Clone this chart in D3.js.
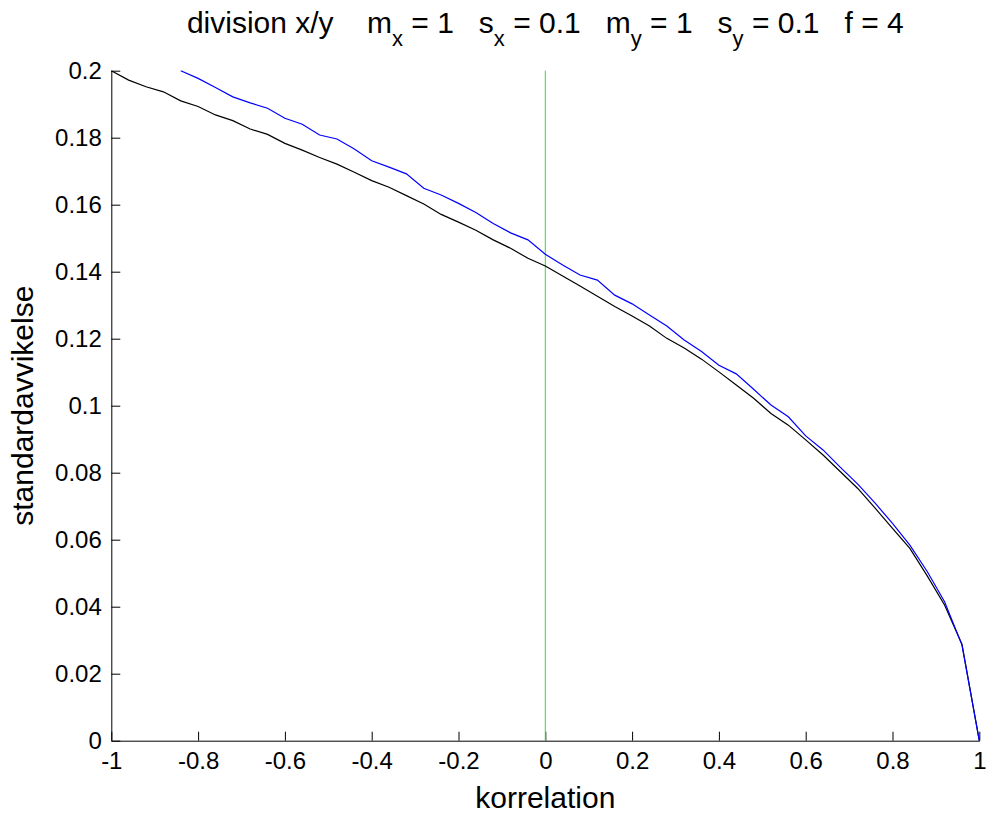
<!DOCTYPE html>
<html lang="en">
<head>
  <meta charset="UTF-8" />
  <title>division x/y</title>
  <script src="https://cdn.jsdelivr.net/npm/d3@7"></script>
  <style>
    body {
      margin: 0;
      background: white;
    }
    text {
      font-family: "Liberation Sans", Arial, sans-serif;
      fill: black;
    }
  </style>
</head>
<body>
  <div id="chart"></div>
  <script>
    // correlation values (x axis)
    var korr = [-1, -0.96, -0.92, -0.88, -0.84, -0.8, -0.76, -0.72, -0.68, -0.64,
      -0.6, -0.56, -0.52, -0.48, -0.44, -0.4, -0.36, -0.32, -0.28, -0.24,
      -0.2, -0.16, -0.12, -0.08, -0.04, 0, 0.04, 0.08, 0.12, 0.16,
      0.2, 0.24, 0.28, 0.32, 0.36, 0.4, 0.44, 0.48, 0.52, 0.56,
      0.6, 0.64, 0.68, 0.72, 0.76, 0.8, 0.84, 0.88, 0.92, 0.96, 1];

    // black curve
    var stdBlack = [0.2000, 0.1972, 0.1952, 0.1937, 0.1910, 0.1893, 0.1868, 0.1851, 0.1826, 0.1810,
      0.1783, 0.1763, 0.1741, 0.1721, 0.1697, 0.1672, 0.1652, 0.1627, 0.1602, 0.1571,
      0.1548, 0.1524, 0.1495, 0.1470, 0.1440, 0.1417, 0.1387, 0.1357, 0.1327, 0.1296,
      0.1268, 0.1238, 0.1201, 0.1172, 0.1139, 0.1101, 0.1062, 0.1022, 0.0977, 0.0942,
      0.0898, 0.0853, 0.0803, 0.0753, 0.0694, 0.0634, 0.0574, 0.0492, 0.0405, 0.0288, 0];

    // blue curve starts at -0.84
    var korrBlue = korr.slice(4);
    var stdBlue = [0.2000, 0.1977, 0.1950, 0.1922, 0.1904, 0.1888,
      0.1858, 0.1840, 0.1808, 0.1796, 0.1766, 0.1731, 0.1712, 0.1692, 0.1649, 0.1629,
      0.1604, 0.1577, 0.1544, 0.1516, 0.1495, 0.1452, 0.1420, 0.1390, 0.1375, 0.1330,
      0.1304, 0.1271, 0.1238, 0.1196, 0.1162, 0.1121, 0.1095, 0.1049, 0.1002, 0.0967,
      0.0910, 0.0868, 0.0816, 0.0766, 0.0709, 0.0649, 0.0584, 0.0505, 0.0415, 0.0286, 0];

    // green marker at korrelation 0
    var greenX = [0, 0];
    var greenY = [0, 0.2];

    var xTicks = [-1, -0.8, -0.6, -0.4, -0.2, 0, 0.2, 0.4, 0.6, 0.8, 1];
    var xTickLabels = ["-1", "-0.8", "-0.6", "-0.4", "-0.2", "0", "0.2", "0.4", "0.6", "0.8", "1"];
    var yTicks = [0, 0.02, 0.04, 0.06, 0.08, 0.1, 0.12, 0.14, 0.16, 0.18, 0.2];
    var yTickLabels = ["0", "0.02", "0.04", "0.06", "0.08", "0.1", "0.12", "0.14", "0.16", "0.18", "0.2"];

    var w = 989;
    var h = 816;
    var plotL = 111.3, plotR = 979.3, plotT = 70.7, plotB = 740.7;

    var svg = d3.select("#chart")
      .append("svg")
      .attr("width", w)
      .attr("height", h);

    var x = d3.scaleLinear().domain([-1, 1]).range([plotL, plotR]);
    var y = d3.scaleLinear().domain([0, 0.2]).range([plotB, plotT]);

    // axes, ticks pointing inwards
    var xAxis = d3.axisBottom(x)
      .tickValues(xTicks)
      .tickFormat(function(d, i) { return xTickLabels[i]; })
      .tickSizeInner(-9)
      .tickSizeOuter(0)
      .tickPadding(11);

    var yAxis = d3.axisLeft(y)
      .tickValues(yTicks)
      .tickFormat(function(d, i) { return yTickLabels[i]; })
      .tickSizeInner(-9)
      .tickSizeOuter(0)
      .tickPadding(9.5);

    var gx = svg.append("g")
      .attr("transform", "translate(0," + plotB + ")")
      .call(xAxis);
    var gy = svg.append("g")
      .attr("transform", "translate(" + plotL + ",0)")
      .call(yAxis);

    [gx, gy].forEach(function(g) {
      g.attr("font-size", null).attr("font-family", null);
      g.selectAll("text").style("font-size", "24px");
      g.select(".domain").attr("stroke", "#000").attr("stroke-width", 1);
      g.selectAll(".tick line").attr("stroke", "#000").attr("stroke-width", 1);
    });

    var line = d3.line()
      .x(function(d) { return x(d[0]); })
      .y(function(d) { return y(d[1]); });

    svg.append("path")
      .datum(d3.zip(greenX, greenY))
      .attr("d", line)
      .attr("fill", "none")
      .attr("stroke", "#33dd33")
      .attr("stroke-width", 1);

    svg.append("path")
      .datum(d3.zip(korr, stdBlack))
      .attr("d", line)
      .attr("fill", "none")
      .attr("stroke", "#000")
      .attr("stroke-width", 1.2);

    svg.append("path")
      .datum(d3.zip(korrBlue, stdBlue))
      .attr("d", line)
      .attr("fill", "none")
      .attr("stroke", "#0000ff")
      .attr("stroke-width", 1.2);

    // title with subscripts
    var title = svg.append("text")
      .attr("x", (plotL + plotR) / 2)
      .attr("y", 33)
      .attr("text-anchor", "middle")
      .style("font-size", "30px")
      .style("white-space", "pre");

    var parts = [
      ["division x/y    m", 0], ["x", 1], [" = 1   s", 0], ["x", 1], [" = 0.1   m", 0],
      ["y", 1], [" = 1   s", 0], ["y", 1], [" = 0.1   f = 4", 0]
    ];
    var prevSub = 0;
    parts.forEach(function(p) {
      var shift = (p[1] - prevSub) * 13;
      title.append("tspan")
        .attr("dy", shift)
        .style("font-size", p[1] ? "22px" : "30px")
        .text(p[0]);
      prevSub = p[1];
    });

    svg.append("text")
      .attr("x", (plotL + plotR) / 2)
      .attr("y", 808)
      .attr("text-anchor", "middle")
      .style("font-size", "30px")
      .text("korrelation");

    svg.append("text")
      .attr("transform", "translate(33," + ((plotT + plotB) / 2) + ") rotate(-90)")
      .attr("text-anchor", "middle")
      .style("font-size", "30px")
      .text("standardavvikelse");
  </script>
</body>
</html>
